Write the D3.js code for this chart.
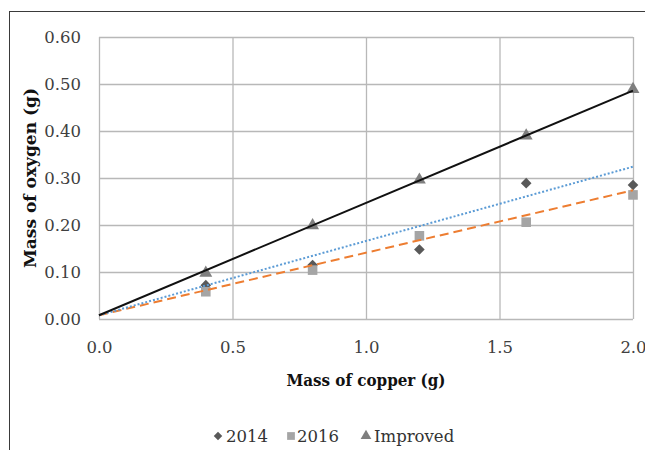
<!DOCTYPE html>
<html>
<head>
<meta charset="utf-8">
<script src="https://cdn.jsdelivr.net/npm/d3@7"></script>
<style>
  body { margin: 0; background: #fff; }
  svg { display: block; }
  .tick text { font-family: "DejaVu Serif", serif; font-size: 16.5px; fill: #404040; }
  .title { font-family: "DejaVu Serif", serif; font-size: 16px; font-weight: bold; fill: #111; }
  .legend text { font-family: "DejaVu Serif", serif; font-size: 16.5px; fill: #333; }
</style>
</head>
<body>
<div id="chart"></div>
<script>
// values
let copper = [0.4, 0.8, 1.2, 1.6, 2.0];
let oxy2014 = [0.072, 0.115, 0.148, 0.289, 0.285];
let oxy2016 = [0.058, 0.104, 0.177, 0.206, 0.264];
let oxyImproved = [0.098, 0.199, 0.296, 0.390, 0.489];

// trend line ends at x = 0 and x = 2.0
let trendX = [0, 2.0];
let trend2014 = [0.008, 0.324];
let trend2016 = [0.008, 0.274];
let trendImproved = [0.008, 0.486];

let xTicks = [0, 0.5, 1.0, 1.5, 2.0];
let yTicks = [0, 0.1, 0.2, 0.3, 0.4, 0.5, 0.6];
let seriesNames = ["2014", "2016", "Improved"];

let width = 645, height = 450;
let margin = { top: 37, right: 12, bottom: 131, left: 99 };
let plotW = width - margin.left - margin.right;
let plotH = height - margin.top - margin.bottom;

let svg = d3.select("#chart").append("svg")
  .attr("width", width)
  .attr("height", height);

// outer frame
svg.append("rect")
  .attr("x", 9.5).attr("y", 11.5)
  .attr("width", 700).attr("height", 500)
  .attr("fill", "none").attr("stroke", "#3a3a3a").attr("stroke-width", 1);

let g = svg.append("g")
  .attr("transform", "translate(" + margin.left + "," + margin.top + ")");

let x = d3.scaleLinear().domain([0, 2.0]).range([0, plotW]);
let y = d3.scaleLinear().domain([0, 0.6]).range([plotH, 0]);

// grid + y labels
let yAxis = g.append("g")
  .call(d3.axisLeft(y).tickValues(yTicks).tickFormat(d3.format(".2f")).tickSize(-plotW).tickPadding(18));
yAxis.select(".domain").remove();
yAxis.selectAll(".tick line").attr("stroke", "#b8b8b8").attr("stroke-width", 1.3);
yAxis.selectAll(".tick text").attr("dy", "0.36em");

let xAxis = g.append("g")
  .attr("transform", "translate(0," + plotH + ")")
  .call(d3.axisBottom(x).tickValues(xTicks).tickFormat(d3.format(".1f")).tickSize(-plotH).tickPadding(22));
xAxis.select(".domain").remove();
xAxis.selectAll(".tick line").attr("stroke", "#b8b8b8").attr("stroke-width", 1.3);

// axis titles
svg.append("text")
  .attr("class", "title")
  .attr("x", 366).attr("y", 386)
  .attr("text-anchor", "middle")
  .attr("textLength", 159).attr("lengthAdjust", "spacingAndGlyphs")
  .text("Mass of copper (g)");

svg.append("text")
  .attr("class", "title")
  .attr("transform", "translate(36,178) rotate(-90)")
  .attr("text-anchor", "middle")
  .attr("textLength", 180).attr("lengthAdjust", "spacingAndGlyphs")
  .text("Mass of oxygen (g)");

// markers
let diamond = d3.symbol().type(d3.symbolDiamond2).size(72);
let square = d3.symbol().type(d3.symbolSquare).size(92);
let triangle = d3.symbol().type(d3.symbolTriangle).size(72);

function drawPoints(vals, sym, color) {
  g.append("g").selectAll("path")
    .data(vals)
    .enter()
    .append("path")
    .attr("d", sym)
    .attr("fill", color)
    .attr("transform", function(d, i) {
      return "translate(" + x(copper[i]) + "," + y(d) + ")";
    });
}

drawPoints(oxy2014, diamond, "#595959");
drawPoints(oxy2016, square, "#a5a5a5");
drawPoints(oxyImproved, triangle, "#7f7f7f");

// trend lines
let line = d3.line()
  .x(function(d, i) { return x(trendX[i]); })
  .y(function(d) { return y(d); });

g.append("path").attr("d", line(trend2016))
  .attr("fill", "none").attr("stroke", "#ed7d31").attr("stroke-width", 2)
  .attr("stroke-dasharray", "9,5");
g.append("path").attr("d", line(trend2014))
  .attr("fill", "none").attr("stroke", "#5b9bd5").attr("stroke-width", 2)
  .attr("stroke-dasharray", "2,2");
g.append("path").attr("d", line(trendImproved))
  .attr("fill", "none").attr("stroke", "#111").attr("stroke-width", 2);

// legend
let legendItems = [
  { name: seriesNames[0], sym: d3.symbol().type(d3.symbolDiamond2).size(46), color: "#595959", x: 218, tx: 226 },
  { name: seriesNames[1], sym: d3.symbol().type(d3.symbolSquare).size(60), color: "#a5a5a5", x: 291, tx: 297 },
  { name: seriesNames[2], sym: d3.symbol().type(d3.symbolTriangle).size(50), color: "#7f7f7f", x: 366, tx: 374 }
];
let legend = svg.append("g").attr("class", "legend");
legendItems.forEach(function(item) {
  legend.append("path")
    .attr("d", item.sym)
    .attr("fill", item.color)
    .attr("transform", "translate(" + item.x + ",436)");
  legend.append("text")
    .attr("x", item.tx).attr("y", 442)
    .text(item.name);
});
</script>
</body>
</html>
